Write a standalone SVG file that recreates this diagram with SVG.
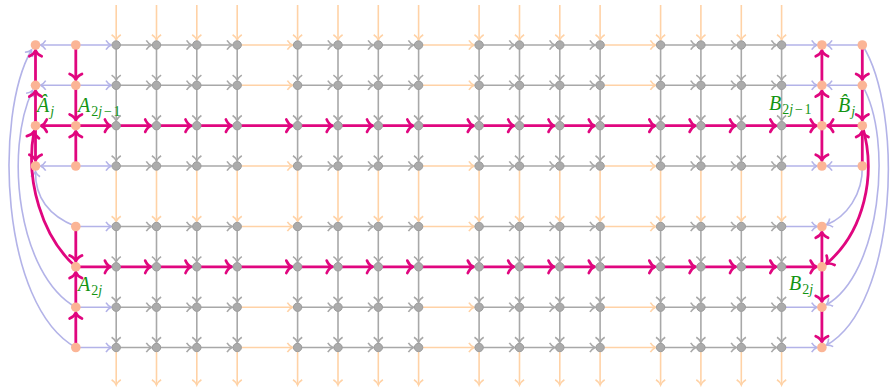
<svg xmlns="http://www.w3.org/2000/svg" width="890" height="391" viewBox="0 0 890 391">
<style>
.ln{fill:none;stroke-width:1.6}
.gr{stroke:#a8a8a8;marker-end:url(#mg)}
.or{stroke:#ffd2a6;marker-end:url(#mo)}
.lv{stroke:#b3b3e8;marker-end:url(#ml)}
.pk{fill:none;stroke:#e0067f;stroke-width:2.8;marker-end:url(#mp)}
.gn{fill:#ababab;stroke:#9c9c9c;stroke-width:1}
.on{fill:#fbb596}
.lb{font-family:"Liberation Serif",serif;font-style:italic;font-size:20px;fill:#139413}
.sb{font-size:14px}
.up{font-style:normal}
</style>
<defs>
<marker id="mg" markerUnits="userSpaceOnUse" orient="auto" overflow="visible" markerWidth="1" markerHeight="1"><path d="M-5.2,-4.6 C-3.6,-2 -1.5,-0.6 0,0 C-1.5,0.6 -3.6,2 -5.2,4.6" fill="none" stroke="#a8a8a8" stroke-width="1.6"/></marker>
<marker id="mo" markerUnits="userSpaceOnUse" orient="auto" overflow="visible" markerWidth="1" markerHeight="1"><path d="M-5.2,-4.6 C-3.6,-2 -1.5,-0.6 0,0 C-1.5,0.6 -3.6,2 -5.2,4.6" fill="none" stroke="#ffd2a6" stroke-width="1.6"/></marker>
<marker id="ml" markerUnits="userSpaceOnUse" orient="auto" overflow="visible" markerWidth="1" markerHeight="1"><path d="M-5.2,-4.6 C-3.6,-2 -1.5,-0.6 0,0 C-1.5,0.6 -3.6,2 -5.2,4.6" fill="none" stroke="#b3b3e8" stroke-width="1.6"/></marker>
<marker id="mp" markerUnits="userSpaceOnUse" orient="auto" overflow="visible" markerWidth="1" markerHeight="1"><path d="M-5.8,-6.2 C-4.2,-2.6 -1.6,-0.6 0,0 C-1.6,0.6 -4.2,2.6 -5.8,6.2" fill="none" stroke="#e0067f" stroke-width="2.7" stroke-linecap="round"/></marker>
<g id="vc">
<line class="ln or" x1="0" y1="5" x2="0" y2="40"/>
<line class="ln gr" x1="0" y1="45" x2="0" y2="80.3"/>
<line class="ln gr" x1="0" y1="85.3" x2="0" y2="120.7"/>
<line class="ln gr" x1="0" y1="125.7" x2="0" y2="161"/>
<line class="ln or" x1="0" y1="166" x2="0" y2="221.5"/>
<line class="ln gr" x1="0" y1="226.5" x2="0" y2="261.8"/>
<line class="ln gr" x1="0" y1="266.8" x2="0" y2="302.2"/>
<line class="ln gr" x1="0" y1="307.2" x2="0" y2="342.5"/>
<line class="ln or" x1="0" y1="347.5" x2="0" y2="385"/>
</g>
<g id="hr">
<line class="ln lv" x1="75.8" x2="111.2"/>
<line class="ln gr" x1="116.2" x2="151.5"/><line class="ln gr" x1="156.5" x2="191.8"/><line class="ln gr" x1="196.8" x2="232.2"/>
<line class="ln or" x1="237.2" x2="292.6"/>
<line class="ln gr" x1="297.6" x2="333"/><line class="ln gr" x1="338" x2="373.3"/><line class="ln gr" x1="378.3" x2="413.6"/>
<line class="ln or" x1="418.6" x2="474.1"/>
<line class="ln gr" x1="479.1" x2="514.5"/><line class="ln gr" x1="519.5" x2="554.8"/><line class="ln gr" x1="559.8" x2="595.1"/>
<line class="ln or" x1="600.1" x2="655.6"/>
<line class="ln gr" x1="660.6" x2="695.9"/><line class="ln gr" x1="700.9" x2="736.3"/><line class="ln gr" x1="741.3" x2="776.6"/>
<line class="ln lv" x1="781.6" x2="816.9"/>
</g>
<g id="he">
<line class="ln lv" x1="75.8" x2="40.5"/>
<line class="ln lv" x1="862.3" x2="826.9"/>
</g>
<g id="hp">
<line class="pk" x1="75.8" x2="110.7"/>
<line class="pk" x1="116.2" x2="151"/><line class="pk" x1="156.5" x2="191.3"/><line class="pk" x1="196.8" x2="231.7"/>
<line class="pk" x1="237.2" x2="292.1"/>
<line class="pk" x1="297.6" x2="332.5"/><line class="pk" x1="338" x2="372.8"/><line class="pk" x1="378.3" x2="413.1"/>
<line class="pk" x1="418.6" x2="473.6"/>
<line class="pk" x1="479.1" x2="514"/><line class="pk" x1="519.5" x2="554.3"/><line class="pk" x1="559.8" x2="594.6"/>
<line class="pk" x1="600.1" x2="655.1"/>
<line class="pk" x1="660.6" x2="695.4"/><line class="pk" x1="700.9" x2="735.8"/><line class="pk" x1="741.3" x2="776.1"/>
<line class="pk" x1="781.6" x2="816.4"/>
</g>
</defs>
<g id="connectors">
<use href="#vc" x="116.2"/><use href="#vc" x="156.5"/><use href="#vc" x="196.8"/><use href="#vc" x="237.2"/>
<use href="#vc" x="297.6"/><use href="#vc" x="338"/><use href="#vc" x="378.3"/><use href="#vc" x="418.6"/>
<use href="#vc" x="479.1"/><use href="#vc" x="519.5"/><use href="#vc" x="559.8"/><use href="#vc" x="600.1"/>
<use href="#vc" x="660.6"/><use href="#vc" x="700.9"/><use href="#vc" x="741.3"/><use href="#vc" x="781.6"/>
<use href="#hr" y="45"/><use href="#hr" y="85.3"/><use href="#hr" y="166"/>
<use href="#hr" y="226.5"/><use href="#hr" y="307.2"/><use href="#hr" y="347.5"/>
<use href="#he" y="45"/><use href="#he" y="85.3"/><use href="#he" y="166"/>
<path class="ln lv" d="M75.8,226.5 C52,217 35,200 35.5,171.5"/>
<path class="ln lv" d="M75.8,307.2 C18,275 4,150 32.5,90.5"/>
<path class="ln lv" d="M75.8,347.5 C0,305 -6,115 31.5,50"/>
<path class="ln lv" d="M862.3,166 C863,195 846,217 826.6,224.7"/>
<path class="ln lv" d="M862.3,85.3 C894,140 880,275 826.3,304.8"/>
<path class="ln lv" d="M862.3,45 C904,110 898,305 826.4,345.2"/>
<use href="#hp" y="125.7"/><use href="#hp" y="266.8"/>
<line class="pk" x1="75.8" y1="125.7" x2="41" y2="125.7"/>
<line class="pk" x1="862.3" y1="125.7" x2="827.4" y2="125.7"/>
<line class="pk" x1="35.5" y1="85.3" x2="35.5" y2="50.5"/>
<line class="pk" x1="35.5" y1="125.7" x2="35.5" y2="90.8"/>
<line class="pk" x1="35.5" y1="125.7" x2="35.5" y2="160.5"/>
<line class="pk" x1="75.8" y1="45" x2="75.8" y2="79.8"/>
<line class="pk" x1="75.8" y1="85.3" x2="75.8" y2="120.2"/>
<line class="pk" x1="75.8" y1="166" x2="75.8" y2="131.2"/>
<line class="pk" x1="75.8" y1="226.5" x2="75.8" y2="261.3"/>
<line class="pk" x1="75.8" y1="307.2" x2="75.8" y2="272.3"/>
<line class="pk" x1="75.8" y1="347.5" x2="75.8" y2="312.7"/>
<line class="pk" x1="821.9" y1="85.3" x2="821.9" y2="50.5"/>
<line class="pk" x1="821.9" y1="125.7" x2="821.9" y2="90.8"/>
<line class="pk" x1="821.9" y1="125.7" x2="821.9" y2="160.5"/>
<line class="pk" x1="821.9" y1="266.8" x2="821.9" y2="232"/>
<line class="pk" x1="821.9" y1="266.8" x2="821.9" y2="301.7"/>
<line class="pk" x1="821.9" y1="307.2" x2="821.9" y2="342"/>
<line class="pk" x1="862.3" y1="45" x2="862.3" y2="79.8"/>
<line class="pk" x1="862.3" y1="85.3" x2="862.3" y2="120.2"/>
<line class="pk" x1="862.3" y1="166" x2="862.3" y2="131.2"/>
<path class="pk" d="M75.8,266.8 C42,237 25,180 34,131.5"/>
<path class="pk" d="M862.3,125.7 C877,175 864,232 826.2,264"/>
</g>
<g id="nodes">
<g id="L1-1"><circle class="on" cx="35.5" cy="45" r="4.8"/></g>
<g id="L1-2"><circle class="on" cx="35.5" cy="85.3" r="4.8"/></g>
<g id="L1-3"><circle class="on" cx="35.5" cy="125.7" r="4.8"/></g>
<g id="L1-4"><circle class="on" cx="35.5" cy="166" r="4.8"/></g>
<g id="L2-1"><circle class="on" cx="75.8" cy="45" r="4.8"/></g>
<g id="L2-2"><circle class="on" cx="75.8" cy="85.3" r="4.8"/></g>
<g id="L2-3"><circle class="on" cx="75.8" cy="125.7" r="4.8"/></g>
<g id="L2-4"><circle class="on" cx="75.8" cy="166" r="4.8"/></g>
<g id="L2-5"><circle class="on" cx="75.8" cy="226.5" r="4.8"/></g>
<g id="L2-6"><circle class="on" cx="75.8" cy="266.8" r="4.8"/></g>
<g id="L2-7"><circle class="on" cx="75.8" cy="307.2" r="4.8"/></g>
<g id="L2-8"><circle class="on" cx="75.8" cy="347.5" r="4.8"/></g>
<g id="R1-1"><circle class="on" cx="821.9" cy="45" r="4.8"/></g>
<g id="R1-2"><circle class="on" cx="821.9" cy="85.3" r="4.8"/></g>
<g id="R1-3"><circle class="on" cx="821.9" cy="125.7" r="4.8"/></g>
<g id="R1-4"><circle class="on" cx="821.9" cy="166" r="4.8"/></g>
<g id="R1-5"><circle class="on" cx="821.9" cy="226.5" r="4.8"/></g>
<g id="R1-6"><circle class="on" cx="821.9" cy="266.8" r="4.8"/></g>
<g id="R1-7"><circle class="on" cx="821.9" cy="307.2" r="4.8"/></g>
<g id="R1-8"><circle class="on" cx="821.9" cy="347.5" r="4.8"/></g>
<g id="R2-1"><circle class="on" cx="862.3" cy="45" r="4.8"/></g>
<g id="R2-2"><circle class="on" cx="862.3" cy="85.3" r="4.8"/></g>
<g id="R2-3"><circle class="on" cx="862.3" cy="125.7" r="4.8"/></g>
<g id="R2-4"><circle class="on" cx="862.3" cy="166" r="4.8"/></g>
<g id="g1-1"><circle class="gn" cx="116.2" cy="45" r="4.2"/></g>
<g id="g1-2"><circle class="gn" cx="156.5" cy="45" r="4.2"/></g>
<g id="g1-3"><circle class="gn" cx="196.8" cy="45" r="4.2"/></g>
<g id="g1-4"><circle class="gn" cx="237.2" cy="45" r="4.2"/></g>
<g id="g1-5"><circle class="gn" cx="297.6" cy="45" r="4.2"/></g>
<g id="g1-6"><circle class="gn" cx="338" cy="45" r="4.2"/></g>
<g id="g1-7"><circle class="gn" cx="378.3" cy="45" r="4.2"/></g>
<g id="g1-8"><circle class="gn" cx="418.6" cy="45" r="4.2"/></g>
<g id="g1-9"><circle class="gn" cx="479.1" cy="45" r="4.2"/></g>
<g id="g1-10"><circle class="gn" cx="519.5" cy="45" r="4.2"/></g>
<g id="g1-11"><circle class="gn" cx="559.8" cy="45" r="4.2"/></g>
<g id="g1-12"><circle class="gn" cx="600.1" cy="45" r="4.2"/></g>
<g id="g1-13"><circle class="gn" cx="660.6" cy="45" r="4.2"/></g>
<g id="g1-14"><circle class="gn" cx="700.9" cy="45" r="4.2"/></g>
<g id="g1-15"><circle class="gn" cx="741.3" cy="45" r="4.2"/></g>
<g id="g1-16"><circle class="gn" cx="781.6" cy="45" r="4.2"/></g>
<g id="g2-1"><circle class="gn" cx="116.2" cy="85.3" r="4.2"/></g>
<g id="g2-2"><circle class="gn" cx="156.5" cy="85.3" r="4.2"/></g>
<g id="g2-3"><circle class="gn" cx="196.8" cy="85.3" r="4.2"/></g>
<g id="g2-4"><circle class="gn" cx="237.2" cy="85.3" r="4.2"/></g>
<g id="g2-5"><circle class="gn" cx="297.6" cy="85.3" r="4.2"/></g>
<g id="g2-6"><circle class="gn" cx="338" cy="85.3" r="4.2"/></g>
<g id="g2-7"><circle class="gn" cx="378.3" cy="85.3" r="4.2"/></g>
<g id="g2-8"><circle class="gn" cx="418.6" cy="85.3" r="4.2"/></g>
<g id="g2-9"><circle class="gn" cx="479.1" cy="85.3" r="4.2"/></g>
<g id="g2-10"><circle class="gn" cx="519.5" cy="85.3" r="4.2"/></g>
<g id="g2-11"><circle class="gn" cx="559.8" cy="85.3" r="4.2"/></g>
<g id="g2-12"><circle class="gn" cx="600.1" cy="85.3" r="4.2"/></g>
<g id="g2-13"><circle class="gn" cx="660.6" cy="85.3" r="4.2"/></g>
<g id="g2-14"><circle class="gn" cx="700.9" cy="85.3" r="4.2"/></g>
<g id="g2-15"><circle class="gn" cx="741.3" cy="85.3" r="4.2"/></g>
<g id="g2-16"><circle class="gn" cx="781.6" cy="85.3" r="4.2"/></g>
<g id="g3-1"><circle class="gn" cx="116.2" cy="125.7" r="4.2"/></g>
<g id="g3-2"><circle class="gn" cx="156.5" cy="125.7" r="4.2"/></g>
<g id="g3-3"><circle class="gn" cx="196.8" cy="125.7" r="4.2"/></g>
<g id="g3-4"><circle class="gn" cx="237.2" cy="125.7" r="4.2"/></g>
<g id="g3-5"><circle class="gn" cx="297.6" cy="125.7" r="4.2"/></g>
<g id="g3-6"><circle class="gn" cx="338" cy="125.7" r="4.2"/></g>
<g id="g3-7"><circle class="gn" cx="378.3" cy="125.7" r="4.2"/></g>
<g id="g3-8"><circle class="gn" cx="418.6" cy="125.7" r="4.2"/></g>
<g id="g3-9"><circle class="gn" cx="479.1" cy="125.7" r="4.2"/></g>
<g id="g3-10"><circle class="gn" cx="519.5" cy="125.7" r="4.2"/></g>
<g id="g3-11"><circle class="gn" cx="559.8" cy="125.7" r="4.2"/></g>
<g id="g3-12"><circle class="gn" cx="600.1" cy="125.7" r="4.2"/></g>
<g id="g3-13"><circle class="gn" cx="660.6" cy="125.7" r="4.2"/></g>
<g id="g3-14"><circle class="gn" cx="700.9" cy="125.7" r="4.2"/></g>
<g id="g3-15"><circle class="gn" cx="741.3" cy="125.7" r="4.2"/></g>
<g id="g3-16"><circle class="gn" cx="781.6" cy="125.7" r="4.2"/></g>
<g id="g4-1"><circle class="gn" cx="116.2" cy="166" r="4.2"/></g>
<g id="g4-2"><circle class="gn" cx="156.5" cy="166" r="4.2"/></g>
<g id="g4-3"><circle class="gn" cx="196.8" cy="166" r="4.2"/></g>
<g id="g4-4"><circle class="gn" cx="237.2" cy="166" r="4.2"/></g>
<g id="g4-5"><circle class="gn" cx="297.6" cy="166" r="4.2"/></g>
<g id="g4-6"><circle class="gn" cx="338" cy="166" r="4.2"/></g>
<g id="g4-7"><circle class="gn" cx="378.3" cy="166" r="4.2"/></g>
<g id="g4-8"><circle class="gn" cx="418.6" cy="166" r="4.2"/></g>
<g id="g4-9"><circle class="gn" cx="479.1" cy="166" r="4.2"/></g>
<g id="g4-10"><circle class="gn" cx="519.5" cy="166" r="4.2"/></g>
<g id="g4-11"><circle class="gn" cx="559.8" cy="166" r="4.2"/></g>
<g id="g4-12"><circle class="gn" cx="600.1" cy="166" r="4.2"/></g>
<g id="g4-13"><circle class="gn" cx="660.6" cy="166" r="4.2"/></g>
<g id="g4-14"><circle class="gn" cx="700.9" cy="166" r="4.2"/></g>
<g id="g4-15"><circle class="gn" cx="741.3" cy="166" r="4.2"/></g>
<g id="g4-16"><circle class="gn" cx="781.6" cy="166" r="4.2"/></g>
<g id="g5-1"><circle class="gn" cx="116.2" cy="226.5" r="4.2"/></g>
<g id="g5-2"><circle class="gn" cx="156.5" cy="226.5" r="4.2"/></g>
<g id="g5-3"><circle class="gn" cx="196.8" cy="226.5" r="4.2"/></g>
<g id="g5-4"><circle class="gn" cx="237.2" cy="226.5" r="4.2"/></g>
<g id="g5-5"><circle class="gn" cx="297.6" cy="226.5" r="4.2"/></g>
<g id="g5-6"><circle class="gn" cx="338" cy="226.5" r="4.2"/></g>
<g id="g5-7"><circle class="gn" cx="378.3" cy="226.5" r="4.2"/></g>
<g id="g5-8"><circle class="gn" cx="418.6" cy="226.5" r="4.2"/></g>
<g id="g5-9"><circle class="gn" cx="479.1" cy="226.5" r="4.2"/></g>
<g id="g5-10"><circle class="gn" cx="519.5" cy="226.5" r="4.2"/></g>
<g id="g5-11"><circle class="gn" cx="559.8" cy="226.5" r="4.2"/></g>
<g id="g5-12"><circle class="gn" cx="600.1" cy="226.5" r="4.2"/></g>
<g id="g5-13"><circle class="gn" cx="660.6" cy="226.5" r="4.2"/></g>
<g id="g5-14"><circle class="gn" cx="700.9" cy="226.5" r="4.2"/></g>
<g id="g5-15"><circle class="gn" cx="741.3" cy="226.5" r="4.2"/></g>
<g id="g5-16"><circle class="gn" cx="781.6" cy="226.5" r="4.2"/></g>
<g id="g6-1"><circle class="gn" cx="116.2" cy="266.8" r="4.2"/></g>
<g id="g6-2"><circle class="gn" cx="156.5" cy="266.8" r="4.2"/></g>
<g id="g6-3"><circle class="gn" cx="196.8" cy="266.8" r="4.2"/></g>
<g id="g6-4"><circle class="gn" cx="237.2" cy="266.8" r="4.2"/></g>
<g id="g6-5"><circle class="gn" cx="297.6" cy="266.8" r="4.2"/></g>
<g id="g6-6"><circle class="gn" cx="338" cy="266.8" r="4.2"/></g>
<g id="g6-7"><circle class="gn" cx="378.3" cy="266.8" r="4.2"/></g>
<g id="g6-8"><circle class="gn" cx="418.6" cy="266.8" r="4.2"/></g>
<g id="g6-9"><circle class="gn" cx="479.1" cy="266.8" r="4.2"/></g>
<g id="g6-10"><circle class="gn" cx="519.5" cy="266.8" r="4.2"/></g>
<g id="g6-11"><circle class="gn" cx="559.8" cy="266.8" r="4.2"/></g>
<g id="g6-12"><circle class="gn" cx="600.1" cy="266.8" r="4.2"/></g>
<g id="g6-13"><circle class="gn" cx="660.6" cy="266.8" r="4.2"/></g>
<g id="g6-14"><circle class="gn" cx="700.9" cy="266.8" r="4.2"/></g>
<g id="g6-15"><circle class="gn" cx="741.3" cy="266.8" r="4.2"/></g>
<g id="g6-16"><circle class="gn" cx="781.6" cy="266.8" r="4.2"/></g>
<g id="g7-1"><circle class="gn" cx="116.2" cy="307.2" r="4.2"/></g>
<g id="g7-2"><circle class="gn" cx="156.5" cy="307.2" r="4.2"/></g>
<g id="g7-3"><circle class="gn" cx="196.8" cy="307.2" r="4.2"/></g>
<g id="g7-4"><circle class="gn" cx="237.2" cy="307.2" r="4.2"/></g>
<g id="g7-5"><circle class="gn" cx="297.6" cy="307.2" r="4.2"/></g>
<g id="g7-6"><circle class="gn" cx="338" cy="307.2" r="4.2"/></g>
<g id="g7-7"><circle class="gn" cx="378.3" cy="307.2" r="4.2"/></g>
<g id="g7-8"><circle class="gn" cx="418.6" cy="307.2" r="4.2"/></g>
<g id="g7-9"><circle class="gn" cx="479.1" cy="307.2" r="4.2"/></g>
<g id="g7-10"><circle class="gn" cx="519.5" cy="307.2" r="4.2"/></g>
<g id="g7-11"><circle class="gn" cx="559.8" cy="307.2" r="4.2"/></g>
<g id="g7-12"><circle class="gn" cx="600.1" cy="307.2" r="4.2"/></g>
<g id="g7-13"><circle class="gn" cx="660.6" cy="307.2" r="4.2"/></g>
<g id="g7-14"><circle class="gn" cx="700.9" cy="307.2" r="4.2"/></g>
<g id="g7-15"><circle class="gn" cx="741.3" cy="307.2" r="4.2"/></g>
<g id="g7-16"><circle class="gn" cx="781.6" cy="307.2" r="4.2"/></g>
<g id="g8-1"><circle class="gn" cx="116.2" cy="347.5" r="4.2"/></g>
<g id="g8-2"><circle class="gn" cx="156.5" cy="347.5" r="4.2"/></g>
<g id="g8-3"><circle class="gn" cx="196.8" cy="347.5" r="4.2"/></g>
<g id="g8-4"><circle class="gn" cx="237.2" cy="347.5" r="4.2"/></g>
<g id="g8-5"><circle class="gn" cx="297.6" cy="347.5" r="4.2"/></g>
<g id="g8-6"><circle class="gn" cx="338" cy="347.5" r="4.2"/></g>
<g id="g8-7"><circle class="gn" cx="378.3" cy="347.5" r="4.2"/></g>
<g id="g8-8"><circle class="gn" cx="418.6" cy="347.5" r="4.2"/></g>
<g id="g8-9"><circle class="gn" cx="479.1" cy="347.5" r="4.2"/></g>
<g id="g8-10"><circle class="gn" cx="519.5" cy="347.5" r="4.2"/></g>
<g id="g8-11"><circle class="gn" cx="559.8" cy="347.5" r="4.2"/></g>
<g id="g8-12"><circle class="gn" cx="600.1" cy="347.5" r="4.2"/></g>
<g id="g8-13"><circle class="gn" cx="660.6" cy="347.5" r="4.2"/></g>
<g id="g8-14"><circle class="gn" cx="700.9" cy="347.5" r="4.2"/></g>
<g id="g8-15"><circle class="gn" cx="741.3" cy="347.5" r="4.2"/></g>
<g id="g8-16"><circle class="gn" cx="781.6" cy="347.5" r="4.2"/></g>
</g>
<g id="labels">
<text class="lb" x="37" y="112">Â<tspan class="sb" dx="1" dy="4">j</tspan></text>
<text class="lb" x="78" y="112">A<tspan class="sb up" dx="1" dy="4">2</tspan><tspan class="sb">j</tspan><tspan class="sb up" dx="2">−</tspan><tspan class="sb up" dx="1.5">1</tspan></text>
<text class="lb" x="769" y="110">B<tspan class="sb up" dx="1" dy="4">2</tspan><tspan class="sb">j</tspan><tspan class="sb up" dx="2">−</tspan><tspan class="sb up" dx="1.5">1</tspan></text>
<text class="lb" x="838" y="112">B̂<tspan class="sb" dx="1" dy="4">j</tspan></text>
<text class="lb" x="78" y="291">A<tspan class="sb up" dx="1" dy="4">2</tspan><tspan class="sb">j</tspan></text>
<text class="lb" x="789" y="290">B<tspan class="sb up" dx="1" dy="4">2</tspan><tspan class="sb">j</tspan></text>
</g>
</svg>
